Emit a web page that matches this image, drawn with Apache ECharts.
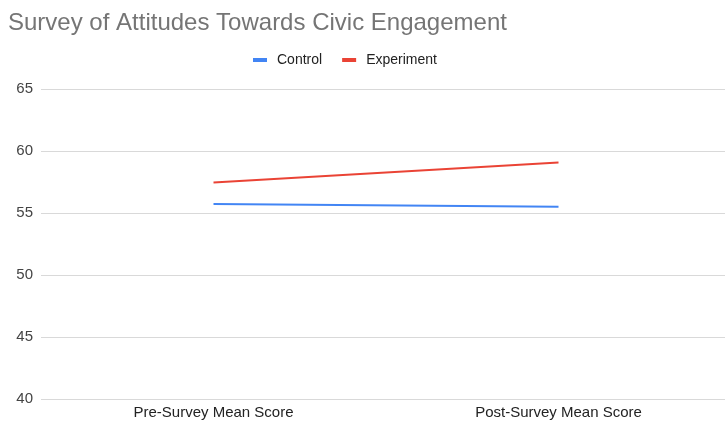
<!DOCTYPE html>
<html>
<head>
<meta charset="utf-8">
<script src="https://cdn.jsdelivr.net/npm/echarts@6/dist/echarts.min.js"></script>
<style>html,body{margin:0;padding:0;background:#fff;overflow:hidden}#c{width:731px;height:421px}</style>
</head>
<body>
<div id="c"></div>
<script>
const categories = ['Pre-Survey Mean Score', 'Post-Survey Mean Score'];
const control = [55.73, 55.5];
const experiment = [57.45, 59.07];
const yTicks = [40, 45, 50, 55, 60, 65];

const chart = echarts.init(document.getElementById('c'), null, {renderer: 'canvas'});
chart.setOption({
  animation: false,
  title: {
    text: 'Survey of Attitudes Towards Civic Engagement',
    left: 3, top: 6,
    textStyle: {fontFamily: 'Liberation Sans, Arial', fontSize: 24, fontWeight: 'normal', color: '#757575'}
  },
  legend: {
    top: 48, left: 248,
    icon: 'rect', itemWidth: 14, itemHeight: 4, itemGap: 20,
    textStyle: {fontFamily: 'Liberation Sans, Arial', fontSize: 14, color: '#222', padding: [0, 0, 0, 5]},
    data: ['Control', 'Experiment']
  },
  grid: {left: 41, top: 89, bottom: 22, right: 0, containLabel: false},
  xAxis: {
    type: 'category', data: categories, boundaryGap: true,
    axisLine: {show: false}, axisTick: {show: false},
    axisLabel: {fontFamily: 'Liberation Sans, Arial', fontSize: 15, color: '#222', margin: 6}
  },
  yAxis: {
    type: 'value', min: yTicks[0], max: yTicks[yTicks.length - 1], interval: 5,
    axisLine: {show: false}, axisTick: {show: false},
    axisLabel: {fontFamily: 'Liberation Sans, Arial', fontSize: 15, color: '#444', margin: 8},
    splitLine: {lineStyle: {color: '#d9d9d9', width: 1}}
  },
  series: [
    {name: 'Control', type: 'line', data: control, symbol: 'none', lineStyle: {color: '#4285F4', width: 2}, itemStyle: {color: '#4285F4'}},
    {name: 'Experiment', type: 'line', data: experiment, symbol: 'none', lineStyle: {color: '#EA4335', width: 2}, itemStyle: {color: '#EA4335'}}
  ]
});
</script>
</body>
</html>
